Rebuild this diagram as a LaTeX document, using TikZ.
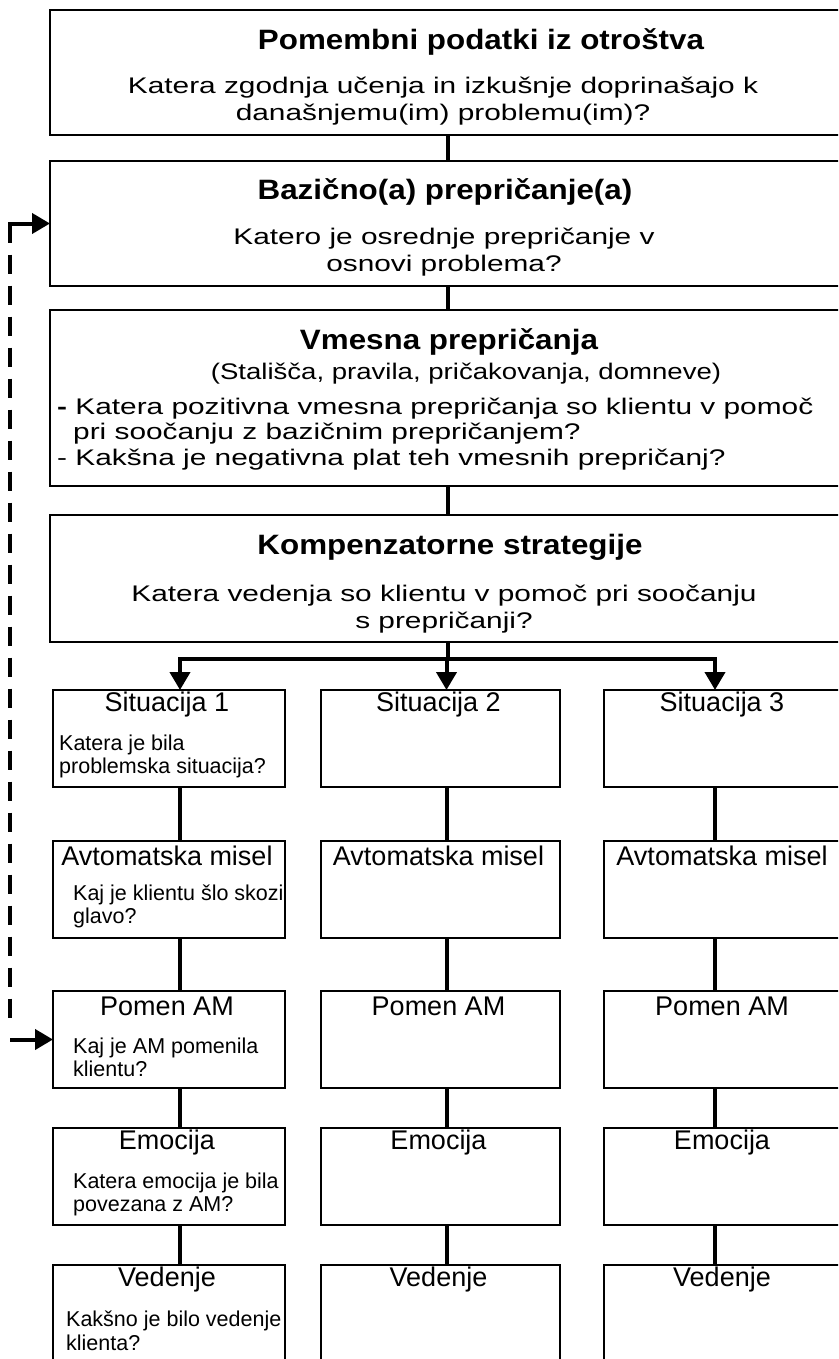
\documentclass[tikz,border=0pt]{standalone}
\usepackage{fontspec}
\setmainfont{Liberation Sans}
\newfontfamily\widefont[FakeStretch=1.32]{Liberation Sans}
\newfontfamily\subfont[FakeStretch=1.22]{Liberation Sans}
\newfontfamily\headfont[FakeStretch=1.12]{Liberation Sans}
\usepackage{tikz}
\usetikzlibrary{arrows.meta,calc,positioning}

\begin{document}
\begin{tikzpicture}[x=1pt,y=-1pt,>={Triangle[length=18pt,width=20pt]},
  bigbox/.style={draw,line width=1.8pt,anchor=north west,minimum width=795pt,inner sep=0pt,outer sep=0pt},
  cellbox/.style={draw,line width=1.7pt,anchor=north west,minimum height=97pt,inner sep=0pt,outer sep=0pt},
  boxtitle/.style={inner sep=0pt,font=\headfont\bfseries\fontsize{28}{31}\selectfont},
  boxquestion/.style={inner sep=0pt,align=center,font=\widefont\fontsize{22.6}{26.5}\selectfont},
  boxsub/.style={inner sep=0pt,font=\subfont\fontsize{22.6}{25.5}\selectfont},
  boxlist/.style={inner sep=0pt,anchor=west,align=left,font=\widefont\fontsize{22.6}{25.5}\selectfont},
  celllabel/.style={inner sep=0pt,font=\fontsize{27}{30}\selectfont},
  cellq/.style={inner sep=0pt,anchor=west,align=left,font=\fontsize{21.5}{23.5}\selectfont},
  conn/.style={line width=4pt},
  fbline/.style={line width=4pt,dash pattern=on 19pt off 12pt}]
\useasboundingbox (0,0) rectangle (838,1359);
\clip (0,0) rectangle (838,1359);

% upper chain
\node[bigbox,minimum height=125pt] (otrostvo) at (50,10) {};
\node[bigbox,minimum height=125pt] (bazicno) at (50,161) {};
\node[bigbox,minimum height=176pt] (vmesna) at (50,310) {};
\node[bigbox,minimum height=127pt] (kompenz) at (50,515) {};

\node[boxtitle] (otrostvo-t) at (481,42) {Pomembni podatki iz otroštva};
\node[boxquestion] (otrostvo-q) at (443,101) {Katera zgodnja učenja in izkušnje doprinašajo k\\današnjemu(im) problemu(im)?};
\node[boxtitle] (bazicno-t) at (445,192) {Bazično(a) prepričanje(a)};
\node[boxquestion] (bazicno-q) at (444,252) {Katero je osrednje prepričanje v\\osnovi problema?};
\node[boxtitle] (vmesna-t) at (449,342) {Vmesna prepričanja};
\node[boxsub] (vmesna-s) at (466,374) {(Stališča, pravila, pričakovanja, domneve)};
\node[boxlist] (vmesna-q) at (57,434) {\textbf{-} Katera pozitivna vmesna prepričanja so klientu v pomoč\\\hspace*{16pt}pri soočanju z bazičnim prepričanjem?\\- Kakšna je negativna plat teh vmesnih prepričanj?};
\node[boxtitle] (kompenz-t) at (450,547) {Kompenzatorne strategije};
\node[boxquestion] (kompenz-q) at (444,609) {Katera vedenja so klientu v pomoč pri soočanju\\s prepričanji?};

\draw[conn] (otrostvo) -- (bazicno);
\draw[conn] (bazicno) -- (vmesna);
\draw[conn] (vmesna) -- (kompenz);

% three columns of situations
\foreach \c/\xl/\w in {1/53/232,2/321/239,3/604/240} {
  \foreach \r/\yt/\lab in {sit/690/Situacija \c,am/841/Avtomatska misel,pomen/991/Pomen AM,emo/1128/Emocija,ved/1265/Vedenje} {
    \node[cellbox,minimum width=\w pt] (\r\c) at (\xl,\yt) {};
    \node[celllabel] (\r\c-l) at ($(\r\c.north)+(-2,15)$) {\lab};
  }
}

\node[cellq] (sit1-q) at (59,756.5) {Katera je bila\\problemska situacija?};
\node[cellq] (am1-q) at (73,906.5) {Kaj je klientu šlo skozi\\glavo?};
\node[cellq] (pomen1-q) at (73,1057.5) {Kaj je AM pomenila\\klientu?};
\node[cellq] (emo1-q) at (73,1194.5) {Katera emocija je bila\\povezana z AM?};
\node[cellq] (ved1-q) at (66,1331) {Kakšno je bilo vedenje\\klienta?};

\coordinate (split) at ($(kompenz.south)+(0,17)$);
\draw[conn] (kompenz.south) -- (split);
\foreach \c/\o in {1/11,2/6,3/-9} {
  \draw[conn,->] (split) -| ([xshift=\o pt]sit\c.north);
  \draw[conn] ([xshift=\o pt]sit\c.south) -- ([xshift=\o pt]am\c.north);
  \draw[conn] ([xshift=\o pt]am\c.south) -- ([xshift=\o pt]pomen\c.north);
  \draw[conn] ([xshift=\o pt]pomen\c.south) -- ([xshift=\o pt]emo\c.north);
  \draw[conn] ([xshift=\o pt]emo\c.south) -- ([xshift=\o pt]ved\c.north);
}

% feedback from meaning back to core belief
\coordinate (fbtop) at ($(bazicno.west)+(-40,0)$);
\coordinate (fbbot) at (fbtop |- pomen1.west);
\draw[fbline] (fbtop) -- ($(fbbot)+(0,-12)$);
\draw[conn,->] ([xshift=-2pt]fbtop) -- (bazicno.west);
\draw[conn,->] (fbbot) -- (pomen1.west);
\end{tikzpicture}
\end{document}
